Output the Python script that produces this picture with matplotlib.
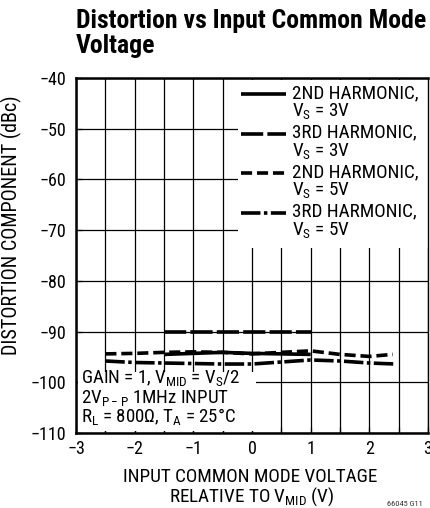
import matplotlib
matplotlib.use("Agg")
import matplotlib.pyplot as plt
from matplotlib.patches import Rectangle
from matplotlib.lines import Line2D
from matplotlib import font_manager as fm

avail = {f.name for f in fm.fontManager.ttflist}
MAIN = next((n for n in ['Roboto Condensed', 'Liberation Sans Narrow', 'PT Sans Narrow', 'Archivo Narrow', 'Liberation Sans']
             if n in avail), 'DejaVu Sans')
FONT = [MAIN, 'DejaVu Sans']
plt.rcParams['font.family'] = FONT
plt.rcParams['mathtext.fontset'] = 'custom'
plt.rcParams['mathtext.rm'] = MAIN
plt.rcParams['lines.scale_dashes'] = False

# ---- data ----
x_2nd_3v = [-1.5, -1.0, -0.5, 0.0, 0.5, 1.0]
y_2nd_3v = [-94.5, -94.3, -94.1, -94.3, -94.4, -94.5]
x_3rd_3v = [-1.5, 1.0]
y_3rd_3v = [-90.0, -90.0]
x_2nd_5v = [-2.5, -2.0, -1.5, -1.0, -0.5, 0.0, 0.5, 1.0, 1.5, 2.0, 2.4]
y_2nd_5v = [-94.4, -94.3, -94.1, -94.0, -94.1, -94.4, -94.1, -93.8, -94.5, -94.9, -94.5]
x_3rd_5v = [-2.5, -2.0, -1.5, -1.0, -0.5, 0.0, 0.5, 1.0, 1.5, 2.0, 2.45]
y_3rd_5v = [-95.8, -96.1, -96.2, -96.3, -96.4, -96.4, -96.0, -95.6, -95.8, -96.2, -96.4]

xticks = [-3, -2, -1, 0, 1, 2, 3]
xticklabels = ['\u22123', '\u22122', '\u22121', '0', '1', '2', '3']
yticks = [-40, -50, -60, -70, -80, -90, -100, -110]
yticklabels = ['\u221240', '\u221250', '\u221260', '\u221270', '\u221280', '\u221290', '\u2212100', '\u2212110']
labels = ["2ND HARMONIC,\nV$_{\\mathregular{S}}$ = 3V",
          "3RD HARMONIC,\nV$_{\\mathregular{S}}$ = 3V",
          "2ND HARMONIC,\nV$_{\\mathregular{S}}$ = 5V",
          "3RD HARMONIC,\nV$_{\\mathregular{S}}$ = 5V"]

W, H = 430, 508
fig = plt.figure(figsize=(W/100, H/100), dpi=100)
L, R, T, B = 76, 428, 78, 433
ax = fig.add_axes([L/W, (H-B)/H, (R-L)/W, (B-T)/H])
ax.set_xlim(-3, 3)
ax.set_ylim(-110, -40)

def axf(px, py):
    return ((px-L)/(R-L), (B-py)/(B-T))

lw = 2.6
styles = [dict(ls='-'),
          dict(ls=(0, (16, 3))),
          dict(ls=(0, (8, 3.5))),
          dict(ls=(0, (14, 2.5, 2.5, 2.5)))]
series = [(x_2nd_3v, y_2nd_3v), (x_3rd_3v, y_3rd_3v), (x_2nd_5v, y_2nd_5v), (x_3rd_5v, y_3rd_5v)]
for (xs, ys), st in zip(series, styles):
    ax.plot(xs, ys, color='black', lw=lw, zorder=3, solid_capstyle='butt', dash_capstyle='butt', **st)

# grid
ax.set_xticks(xticks)
ax.set_xticks([v/2 for v in range(-6, 7)], minor=True)
ax.set_yticks(yticks)
ax.grid(which='both', axis='x', color='black', lw=0.9, zorder=1)
ax.grid(which='major', axis='y', color='black', lw=0.9, zorder=1)
ax.set_xticklabels(xticklabels)
ax.set_yticklabels(yticklabels)
ax.tick_params(axis='both', which='both', direction='in', labelsize=13, length=4, width=0.9)
ax.tick_params(axis='x', which='both', top=False, pad=5)
ax.tick_params(axis='y', which='both', right=False, pad=7)
for s in ['left', 'bottom', 'top']:
    ax.spines[s].set_linewidth(1.8)
ax.spines['right'].set_linewidth(1.0)

# legend box
x0, y0 = axf(238, 80)
x1, y1 = axf(R, 248)
ax.add_patch(Rectangle((x0, y1), x1-x0, y0-y1, transform=ax.transAxes,
                       facecolor='white', edgecolor='none', zorder=2))
for i, (lab, st) in enumerate(zip(labels, styles)):
    py = 94 + 39.5*i
    hx0, hy = axf(241, py)
    hx1, _ = axf(286, py)
    ax.add_line(Line2D([hx0, hx1], [hy, hy], transform=ax.transAxes, color='black',
                       lw=lw, zorder=4, solid_capstyle='butt', dash_capstyle='butt', **st))
    tx, ty = axf(292, py - 10)
    ax.text(tx, ty, lab, transform=ax.transAxes, fontsize=13.8, va='top', ha='left',
            linespacing=1.0, zorder=5)

# annotation box
ax0, ay0 = axf(78, 372)
ax1, ay1 = axf(256, 431)
ax.add_patch(Rectangle((ax0, ay1), ax1-ax0, ay0-ay1, transform=ax.transAxes,
                       facecolor='white', edgecolor='none', zorder=2))
ann = ["GAIN = 1, V$_{\\mathregular{MID}}$ = V$_{\\mathregular{S}}$/2",
       "2V$_{\\mathregular{P-P}}$ 1MHz INPUT",
       "R$_{\\mathregular{L}}$ = 800\u03a9, T$_{\\mathregular{A}}$ = 25\u00b0C"]
for i, a in enumerate(ann):
    tx, ty = axf(81, 384 + 19.5*i)
    ax.text(tx, ty, a, transform=ax.transAxes, fontsize=13.6, va='baseline', ha='left', zorder=5)

ax.set_ylabel('DISTORTION COMPONENT (dBc)', fontsize=14.5)
ax.yaxis.set_label_coords((22-L)/(R-L), 0.585)
fig.text(250/W, 1-477/H, 'INPUT COMMON MODE VOLTAGE', fontsize=13.8, ha='center', va='center')
fig.text(252/W, 1-497/H, 'RELATIVE TO V$_{\\mathregular{MID}}$ (V)', fontsize=13.8, ha='center', va='center')
fig.text(405/W, 1-504/H, '66045 G11', fontsize=6, ha='center', va='center', color='#333333')

fig.text(76/W, 1-53/H, 'Distortion vs Input Common Mode\nVoltage', fontsize=18.5, fontweight='bold',
         ha='left', va='baseline', linespacing=1.05)

fig.savefig('out.png', dpi=100)
